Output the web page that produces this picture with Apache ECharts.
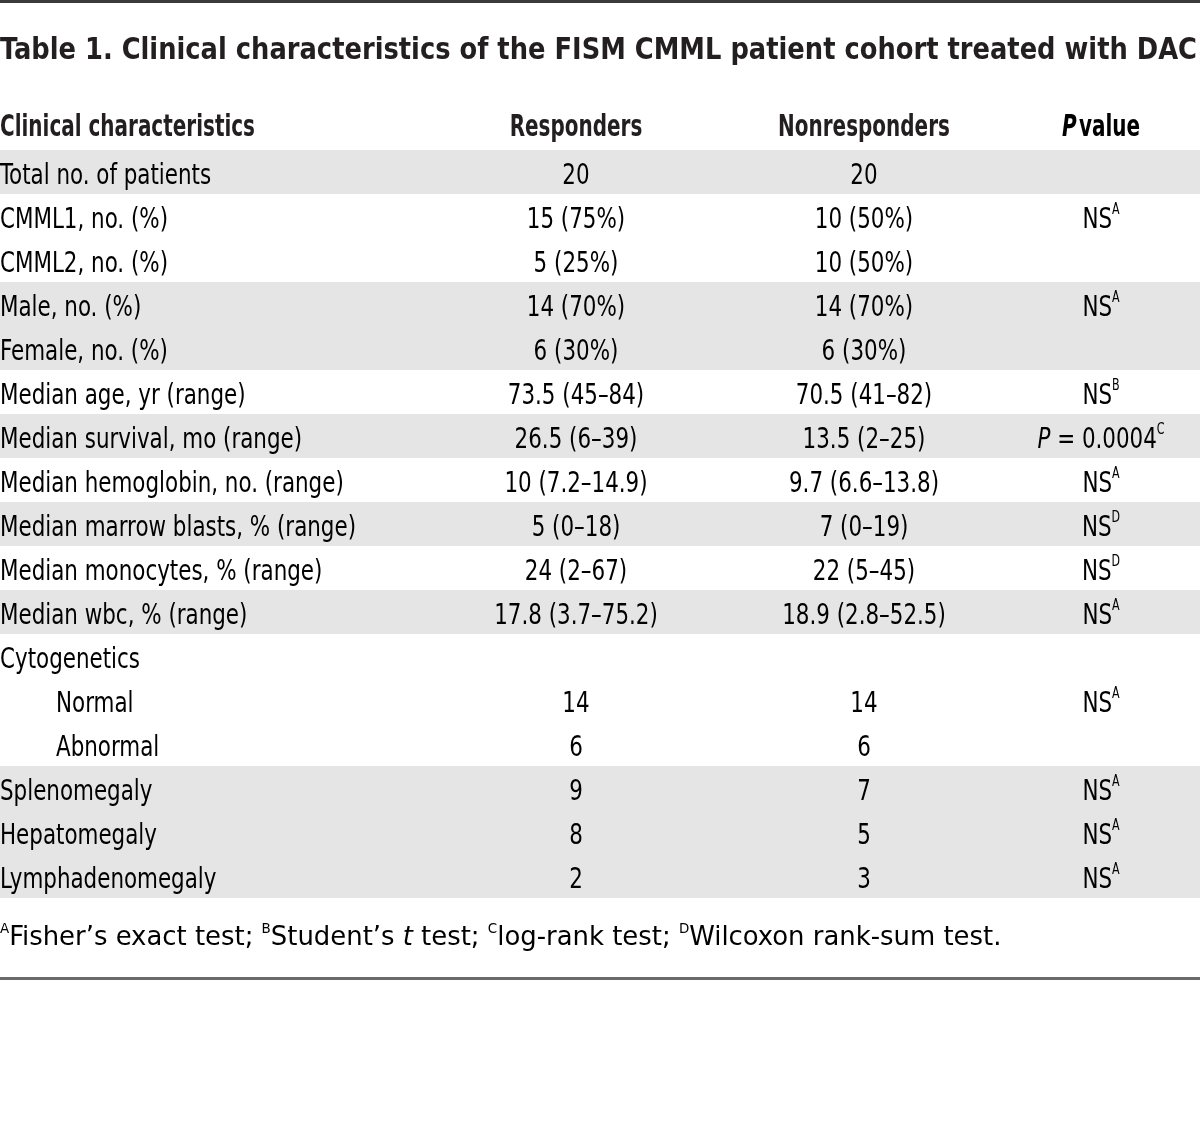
<!DOCTYPE html>
<html>
<head>
<meta charset="utf-8">
<script src="https://cdn.jsdelivr.net/npm/echarts@6/dist/echarts.min.js"></script>
<style>
html,body{margin:0;padding:0;background:#fff;}
#main{width:1200px;height:1125px;}
</style>
</head>
<body>
<div id="main"></div>
<script>
// ---- data ----
const titleText = 'Table 1. Clinical characteristics of the FISM CMML patient cohort treated with DAC';
const headers = ['Clinical characteristics', 'Responders', 'Nonresponders', 'P value'];
const rowLabels = [
  'Total no. of patients', 'CMML1, no. (%)', 'CMML2, no. (%)', 'Male, no. (%)', 'Female, no. (%)',
  'Median age, yr (range)', 'Median survival, mo (range)', 'Median hemoglobin, no. (range)',
  'Median marrow blasts, % (range)', 'Median monocytes, % (range)', 'Median wbc, % (range)',
  'Cytogenetics', 'Normal', 'Abnormal', 'Splenomegaly', 'Hepatomegaly', 'Lymphadenomegaly'
];
const responders = [
  '20', '15 (75%)', '5 (25%)', '14 (70%)', '6 (30%)', '73.5 (45–84)', '26.5 (6–39)',
  '10 (7.2–14.9)', '5 (0–18)', '24 (2–67)', '17.8 (3.7–75.2)', '', '14', '6', '9', '8', '2'
];
const nonresponders = [
  '20', '10 (50%)', '10 (50%)', '14 (70%)', '6 (30%)', '70.5 (41–82)', '13.5 (2–25)',
  '9.7 (6.6–13.8)', '7 (0–19)', '22 (5–45)', '18.9 (2.8–52.5)', '', '14', '6', '7', '5', '3'
];
const pValueText = ['', 'NS', '', 'NS', '', 'NS', 'P = 0.0004', 'NS', 'NS', 'NS', 'NS', '', 'NS', '', 'NS', 'NS', 'NS'];
const pValueNote = ['', 'A', '', 'A', '', 'B', 'C', 'A', 'D', 'D', 'A', '', 'A', '', 'A', 'A', 'A'];
const subRows = ['Normal', 'Abnormal'];
const footnoteMarks = ['A', 'B', 'C', 'D'];
const footnoteTexts = ['Fisher’s exact test; ', 'Student’s |t| test; ', 'log-rank test; ', 'Wilcoxon rank-sum test.'];
// row shading groups (style)
const rowShaded = [1,0,0,1,1,0,1,0,1,0,1,0,0,0,1,1,1];

// ---- layout / style ----
const FONT = "'Liberation Sans Narrow', 'DejaVu Sans Condensed', sans-serif";
const TXT = '#231f20';
const SHADE = '#e5e5e5';
const ROW_H = 44;
const TABLE_TOP = 150;
const XCOL = { label: 0, indent: 56, resp: 576, nonresp: 864, p: 1101 };
const FS = 29, HFS = 31, TFS = 30, NFS = 27, SFS = 15;

const mctx = document.createElement('canvas').getContext('2d');
function measure(text, font) { mctx.font = font; return mctx.measureText(text).width; }
// horizontal compression factors to mimic the condensed typeface of the original
const BODY_SX = 356 / measure('Median marrow blasts, % (range)', FS + 'px ' + FONT);
const HEAD_SX = 255 / measure('Clinical characteristics', 'bold ' + HFS + 'px ' + FONT);
const TITLE_SX = 1197 / measure(titleText, 'bold ' + TFS + 'px ' + FONT);
const footPlain = footnoteTexts.map(t => t.replace(/\|/g, '')).join('');
const FOOT_SX = 1000 / (measure(footPlain, NFS + 'px ' + FONT) + 4 * measure('A', '14px ' + FONT));

const rich = {
  n: { fontSize: FS, fontFamily: FONT, color: TXT, lineHeight: 34 },
  i: { fontSize: FS, fontFamily: FONT, color: TXT, fontStyle: 'italic', lineHeight: 34 },
  s: { fontSize: SFS, fontFamily: FONT, color: TXT, verticalAlign: 'top', lineHeight: 34, padding: [0, 0, 14, 0] }
};

const chart = echarts.init(document.getElementById('main'), null, { renderer: 'canvas' });

function pRich(i) {
  const t = pValueText[i];
  if (!t) return '';
  const main = t.startsWith('P ') ? '{i|P}{n|' + t.slice(1) + '}' : '{n|' + t + '}';
  return main + (pValueNote[i] ? '{s|' + pValueNote[i] + '}' : '');
}

const option = {
  animation: false,
  backgroundColor: '#fff',
  grid: { left: 0, right: 0, top: TABLE_TOP, height: ROW_H * rowLabels.length, containLabel: false },
  xAxis: { type: 'value', min: 0, max: 1200, show: false },
  yAxis: { type: 'category', data: rowLabels, inverse: true, show: false },
  series: [
    {
      type: 'bar',
      silent: true,
      barWidth: ROW_H,
      itemStyle: { color: SHADE },
      data: rowShaded.map(s => s ? 1200 : '-'),
      z: 1
    },
    {
      type: 'custom',
      silent: true,
      z: 5,
      data: rowLabels.map((l, i) => [0, i]),
      renderItem: function (params, api) {
        const i = params.dataIndex;
        const y = api.coord([0, i])[1] + 4;
        const lx = api.coord([subRows.includes(rowLabels[i]) ? XCOL.indent : XCOL.label, i])[0];
        const children = [];
        const mk = (x, text, align) => ({
          type: 'text', x: x, y: y, scaleX: BODY_SX, scaleY: 1,
          style: { x: 0, y: 0, text: text, rich: rich, align: align, verticalAlign: 'middle' }
        });
        children.push(mk(lx, '{n|' + rowLabels[i] + '}', 'left'));
        if (responders[i]) children.push(mk(api.coord([XCOL.resp, i])[0], '{n|' + responders[i] + '}', 'center'));
        if (nonresponders[i]) children.push(mk(api.coord([XCOL.nonresp, i])[0], '{n|' + nonresponders[i] + '}', 'center'));
        const pr = pRich(i);
        if (pr) children.push(mk(api.coord([XCOL.p, i])[0], pr, 'center'));
        return { type: 'group', children: children };
      }
    }
  ],
  graphic: [
    { type: 'rect', shape: { x: 0, y: 0, width: 1200, height: 3 }, style: { fill: '#3a3a3a' } },
    {
      type: 'text', x: 0, y: 51, scaleX: TITLE_SX,
      style: { x: 0, y: 0, text: titleText, font: 'bold ' + TFS + 'px ' + FONT, fill: TXT, align: 'left', verticalAlign: 'middle' }
    },
    {
      type: 'text', x: XCOL.label, y: 128, scaleX: HEAD_SX,
      style: { x: 0, y: 0, text: headers[0], font: 'bold ' + HFS + 'px ' + FONT, fill: TXT, align: 'left', verticalAlign: 'middle' }
    },
    {
      type: 'text', x: XCOL.resp, y: 128, scaleX: HEAD_SX,
      style: { x: 0, y: 0, text: headers[1], font: 'bold ' + HFS + 'px ' + FONT, fill: TXT, align: 'center', verticalAlign: 'middle' }
    },
    {
      type: 'text', x: XCOL.nonresp, y: 128, scaleX: HEAD_SX,
      style: { x: 0, y: 0, text: headers[2], font: 'bold ' + HFS + 'px ' + FONT, fill: TXT, align: 'center', verticalAlign: 'middle' }
    },
    {
      type: 'text', x: XCOL.p, y: 128, scaleX: HEAD_SX,
      style: {
        x: 0, y: 0,
        text: '{bi|' + headers[3].split(' ')[0] + '} {b|' + headers[3].split(' ')[1] + '}', align: 'center', verticalAlign: 'middle',
        rich: {
          bi: { fontSize: HFS, fontFamily: FONT, fontWeight: 'bold', fontStyle: 'italic', color: TXT },
          b: { fontSize: HFS, fontFamily: FONT, fontWeight: 'bold', color: TXT }
        }
      }
    },
    {
      type: 'text', x: 0, y: 938, scaleX: FOOT_SX,
      style: {
        x: 0, y: 0,
        text: footnoteMarks.map((m, k) => {
          const parts = footnoteTexts[k].split('|');
          let s = '{s|' + m + '}{n|' + parts[0] + '}';
          if (parts.length > 1) s += '{i|' + parts[1] + '}{n|' + parts[2] + '}';
          return s;
        }).join(''),
        align: 'left', verticalAlign: 'middle',
        rich: {
          n: { fontSize: NFS, fontFamily: FONT, color: TXT, lineHeight: 32 },
          i: { fontSize: NFS, fontFamily: FONT, color: TXT, fontStyle: 'italic', lineHeight: 32 },
          s: { fontSize: 14, fontFamily: FONT, color: TXT, verticalAlign: 'top', lineHeight: 32, padding: [0, 0, 14, 0] }
        }
      }
    },
    { type: 'rect', shape: { x: 0, y: 977, width: 1200, height: 3 }, style: { fill: '#6a6a6a' } }
  ]
};
chart.setOption(option);
</script>
</body>
</html>
